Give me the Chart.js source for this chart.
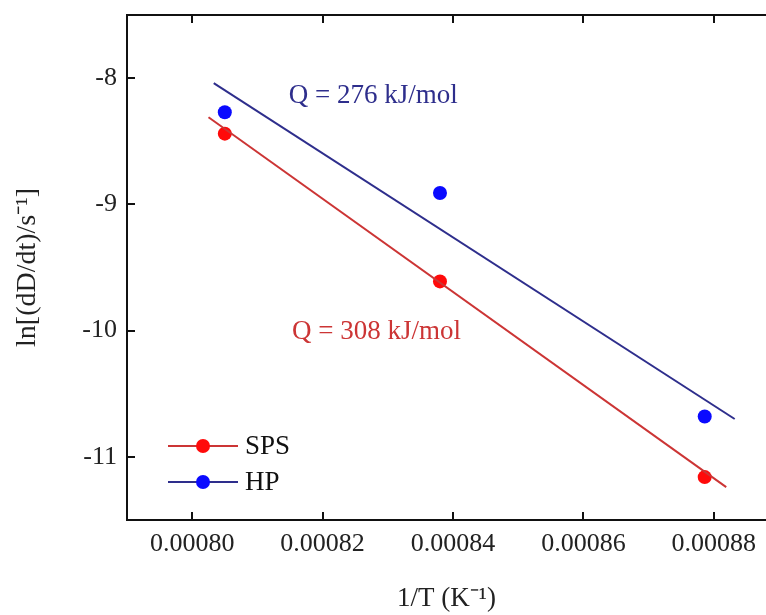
<!DOCTYPE html>
<html><head><meta charset="utf-8">
<script src="https://cdn.jsdelivr.net/npm/chart.js@4.4.0/dist/chart.umd.min.js"></script>
<style>html,body{margin:0;padding:0;background:#fff;overflow:hidden;width:766px;height:615px}
canvas{display:block}</style></head>
<body><canvas id="c" width="766" height="615"></canvas>
<script>
// ---- data ----
const xTicks = [0.00080, 0.00082, 0.00084, 0.00086, 0.00088];
const xTickLabels = ["0.00080", "0.00082", "0.00084", "0.00086", "0.00088"];
const yTicks = [-8, -9, -10, -11];
const yTickLabels = ["-8", "-9", "-10", "-11"];
const xRange = [0.00079, 0.000888];   // visible part of the axis (cut at the right edge)
const yRange = [-11.5, -7.5];
const invT = [0.000805, 0.000838, 0.0008786];
const spsValues = [-8.44, -9.61, -11.16];
const hpValues = [-8.27, -8.91, -10.68];
const spsFitX = [0.0008025, 0.0008819];
const spsFitY = [-8.31, -11.24];
const hpFitX = [0.0008033, 0.0008832];
const hpFitY = [-8.04, -10.70];
const seriesNames = ["SPS", "HP"];
const annotationTexts = ["Q = 276 kJ/mol", "Q = 308 kJ/mol"];
const xTitle = "1/T (K\u207B\u00B9)";
const yTitle = "ln[(dD/dt)/s\u207B\u00B9]";

const RED = '#ff0a0a', BLUE = '#0a0aff';
const RED_LINE = '#cc3535', BLUE_LINE = '#2e2e8c';
const FONT = '"Liberation Serif", "Times New Roman", serif';

const toPts = (xs, ys) => xs.map((v, i) => ({x: v, y: ys[i]}));

const decor = {
  id: 'decor',
  afterDraw(chart) {
    const {ctx, chartArea: a, scales: {x, y}} = chart;
    ctx.save();
    ctx.strokeStyle = '#111'; ctx.lineWidth = 2;
    ctx.beginPath();
    ctx.moveTo(a.right, a.top); ctx.lineTo(a.left, a.top);
    ctx.lineTo(a.left, a.bottom); ctx.lineTo(a.right, a.bottom);
    xTicks.forEach(v => {
      const px = Math.round(x.getPixelForValue(v));
      ctx.moveTo(px, a.bottom); ctx.lineTo(px, a.bottom - 8);
      ctx.moveTo(px, a.top); ctx.lineTo(px, a.top + 8);
    });
    yTicks.forEach(v => {
      const py = Math.round(y.getPixelForValue(v));
      ctx.moveTo(a.left, py); ctx.lineTo(a.left + 8, py);
    });
    ctx.stroke();

    // annotations
    ctx.font = '27px ' + FONT;
    ctx.textBaseline = 'middle'; ctx.textAlign = 'left';
    ctx.fillStyle = BLUE_LINE;
    ctx.fillText(annotationTexts[0], x.getPixelForValue(0.0008148), y.getPixelForValue(-8.142));
    ctx.fillStyle = RED_LINE;
    ctx.fillText(annotationTexts[1], x.getPixelForValue(0.0008153), y.getPixelForValue(-10.014));

    // legend
    const items = [[RED_LINE, RED, 446], [BLUE_LINE, BLUE, 482]];
    items.forEach((it, i) => {
      ctx.strokeStyle = it[0]; ctx.lineWidth = 2;
      ctx.beginPath(); ctx.moveTo(168, it[2]); ctx.lineTo(238, it[2]); ctx.stroke();
      ctx.fillStyle = it[1];
      ctx.beginPath(); ctx.arc(203, it[2], 7, 0, Math.PI * 2); ctx.fill();
      ctx.fillStyle = '#111';
      ctx.fillText(seriesNames[i], 245, it[2] + 1);
    });
    ctx.restore();
  }
};

new Chart(document.getElementById('c'), {
  type: 'scatter',
  data: {
    datasets: [
      {label: seriesNames[0] + ' fit', data: toPts(spsFitX, spsFitY), showLine: true, borderColor: RED_LINE, borderWidth: 2, pointRadius: 0, fill: false},
      {label: seriesNames[1] + ' fit', data: toPts(hpFitX, hpFitY), showLine: true, borderColor: BLUE_LINE, borderWidth: 2, pointRadius: 0, fill: false},
      {label: seriesNames[0], data: toPts(invT, spsValues), showLine: false, backgroundColor: RED, borderColor: RED, pointRadius: 7, pointBorderWidth: 0},
      {label: seriesNames[1], data: toPts(invT, hpValues), showLine: false, backgroundColor: BLUE, borderColor: BLUE, pointRadius: 7, pointBorderWidth: 0}
    ]
  },
  options: {
    responsive: false, animation: false, devicePixelRatio: 1,
    layout: {autoPadding: false, padding: {top: 15, right: 0, left: 0, bottom: 0}},
    plugins: {legend: {display: false}, tooltip: {enabled: false}},
    scales: {
      x: {
        type: 'linear', min: xRange[0], max: xRange[1],
        afterBuildTicks: s => { s.ticks = xTicks.map(v => ({value: v})); },
        afterFit: s => { s.height = 95; s.paddingLeft = 0; s.paddingRight = 0; },
        grid: {display: false, drawTicks: false}, border: {display: false},
        ticks: {padding: 9, color: '#222', font: {family: FONT, size: 26}, maxRotation: 0,
                callback: (v, i) => xTickLabels[i]},
        title: {display: true, text: xTitle, color: '#222', font: {family: FONT, size: 27}, padding: {top: 0, bottom: 0}}
      },
      y: {
        type: 'linear', min: yRange[0], max: yRange[1],
        afterBuildTicks: s => { s.ticks = yTicks.map(v => ({value: v})); },
        afterFit: s => { s.width = 127; s.paddingTop = 0; s.paddingBottom = 0; },
        grid: {display: false, drawTicks: false}, border: {display: false},
        ticks: {padding: 10, color: '#222', font: {family: FONT, size: 26},
                callback: (v, i) => yTickLabels[i]},
        title: {display: true, text: yTitle, color: '#222', font: {family: FONT, size: 28}, padding: {top: 11, bottom: 0}}
      }
    }
  },
  plugins: [decor]
});
</script></body></html>
